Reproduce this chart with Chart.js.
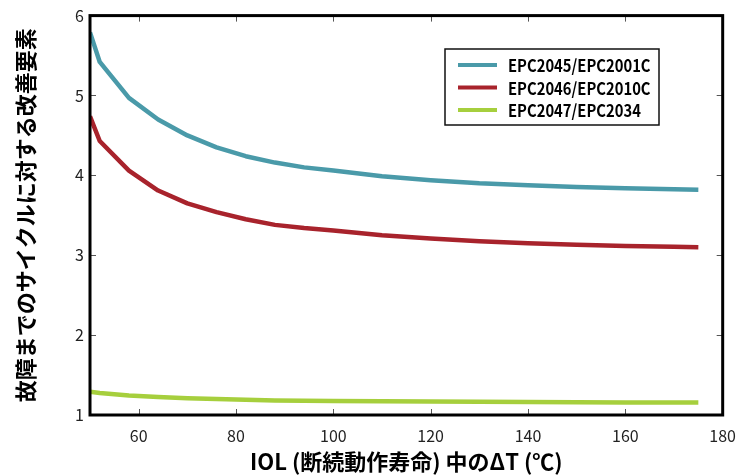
<!DOCTYPE html>
<html>
<head>
<meta charset="utf-8">
<script src="https://cdn.jsdelivr.net/npm/chart.js@4.4.0/dist/chart.umd.min.js"></script>
<style>
    html, body { margin: 0; padding: 0; background: #fff; }
    #wrap { width: 747px; height: 476px; position: relative; }
</style>
</head>
<body>
<div id="wrap"><canvas id="chart"></canvas></div>
<script>
// ΔT (°C)
const deltaT = [50, 52, 58, 64, 70, 76, 82, 88, 94, 100, 110, 120, 130, 140, 150, 160, 170, 175];

// 改善要素 par paire de composants
const epc2045 = [5.79, 5.42, 4.97, 4.70, 4.50, 4.35, 4.24, 4.16, 4.10, 4.06, 3.99, 3.94, 3.90, 3.875, 3.855, 3.84, 3.825, 3.82];
const epc2046 = [4.74, 4.43, 4.06, 3.81, 3.65, 3.54, 3.45, 3.38, 3.34, 3.31, 3.25, 3.21, 3.175, 3.15, 3.13, 3.115, 3.105, 3.10];
const epc2047 = [1.29, 1.275, 1.245, 1.225, 1.21, 1.20, 1.19, 1.183, 1.178, 1.175, 1.172, 1.168, 1.165, 1.163, 1.16, 1.158, 1.156, 1.155];

const seriesLabels = ['EPC2045/EPC2001C', 'EPC2046/EPC2010C', 'EPC2047/EPC2034'];
const seriesColors = ['#4a9aa9', '#a8232c', '#a6cf3d'];

const xTitle = 'IOL (断続動作寿命) 中のΔT (℃)';
const yTitle = '故障までのサイクルに対する改善要素';

const fontFam = "'Noto Sans CJK JP', 'Noto Sans', sans-serif";

function toPoints(ys) {
    return ys.map((y, i) => ({ x: deltaT[i], y: y }));
}

// cadre noir + graduations vers l'intérieur
const framePlugin = {
    id: 'frame',
    afterDatasetsDraw(chart) {
        const { ctx, chartArea: a, scales } = chart;
        ctx.save();
        ctx.strokeStyle = '#555';
        ctx.lineWidth = 1;
        const len = 6;
        scales.x.ticks.forEach(t => {
            const px = Math.round(scales.x.getPixelForValue(t.value)) + 0.5;
            ctx.beginPath();
            ctx.moveTo(px, a.bottom); ctx.lineTo(px, a.bottom - len);
            ctx.moveTo(px, a.top); ctx.lineTo(px, a.top + len);
            ctx.stroke();
        });
        scales.y.ticks.forEach(t => {
            const py = Math.round(scales.y.getPixelForValue(t.value)) + 0.5;
            ctx.beginPath();
            ctx.moveTo(a.left, py); ctx.lineTo(a.left + len, py);
            ctx.moveTo(a.right, py); ctx.lineTo(a.right - len, py);
            ctx.stroke();
        });
        ctx.strokeStyle = '#000';
        ctx.lineWidth = 3;
        ctx.strokeRect(a.left, a.top, a.right - a.left, a.bottom - a.top);
        ctx.restore();
    }
};

// légende encadrée
const boxLegendPlugin = {
    id: 'boxLegend',
    afterDraw(chart) {
        const { ctx } = chart;
        const bx = 445, by = 49, bw = 214, bh = 76;
        ctx.save();
        ctx.fillStyle = '#fff';
        ctx.fillRect(bx, by, bw, bh);
        ctx.strokeStyle = '#111';
        ctx.lineWidth = 1.5;
        ctx.strokeRect(bx, by, bw, bh);
        ctx.font = "bold 17px " + fontFam;
        ctx.textBaseline = 'middle';
        chart.data.datasets.forEach((ds, i) => {
            const y = by + 16 + i * 22.5;
            ctx.strokeStyle = ds.borderColor;
            ctx.lineWidth = 4;
            ctx.beginPath();
            ctx.moveTo(bx + 13, y);
            ctx.lineTo(bx + 52, y);
            ctx.stroke();
            ctx.save();
            ctx.translate(bx + 63, y + 1);
            ctx.scale(0.87, 1);
            ctx.fillStyle = '#000';
            ctx.fillText(ds.label, 0, 0);
            ctx.restore();
        });
        ctx.restore();
    }
};

new Chart(document.getElementById('chart'), {
    type: 'line',
    data: {
        datasets: [
            { label: seriesLabels[0], data: toPoints(epc2045), borderColor: seriesColors[0] },
            { label: seriesLabels[1], data: toPoints(epc2046), borderColor: seriesColors[1] },
            { label: seriesLabels[2], data: toPoints(epc2047), borderColor: seriesColors[2] }
        ].map(ds => Object.assign(ds, {
            borderWidth: 4.5,
            pointRadius: 0,
            fill: false,
            tension: 0,
            borderCapStyle: 'butt',
            borderJoinStyle: 'round'
        }))
    },
    options: {
        responsive: true,
        maintainAspectRatio: false,
        animation: false,
        layout: { padding: { left: 0, top: 15, right: 19, bottom: 0 } },
        plugins: {
            legend: { display: false },
            tooltip: { enabled: false }
        },
        scales: {
            x: {
                type: 'linear',
                min: 50,
                max: 180,
                grid: { display: false, drawTicks: false },
                border: { display: false },
                ticks: {
                    stepSize: 20,
                    includeBounds: false,
                    maxRotation: 0,
                    color: '#222',
                    padding: 11,
                    font: { family: fontFam, size: 16 }
                },
                title: {
                    display: true,
                    text: xTitle,
                    color: '#000',
                    padding: { top: 0, bottom: 1 },
                    font: { family: fontFam, size: 22, weight: 'bold' }
                },
                afterFit(scale) { scale.height = 61; }
            },
            y: {
                min: 1,
                max: 6,
                grid: { display: false, drawTicks: false },
                border: { display: false },
                ticks: {
                    stepSize: 1,
                    color: '#222',
                    padding: 6,
                    font: { family: fontFam, size: 16 }
                },
                title: {
                    display: true,
                    text: yTitle,
                    color: '#000',
                    padding: { top: 12, bottom: 0 },
                    font: { family: fontFam, size: 22, weight: 'bold' }
                },
                afterFit(scale) { scale.width = 90; }
            }
        }
    },
    plugins: [framePlugin, boxLegendPlugin]
});
</script>
</body>
</html>
